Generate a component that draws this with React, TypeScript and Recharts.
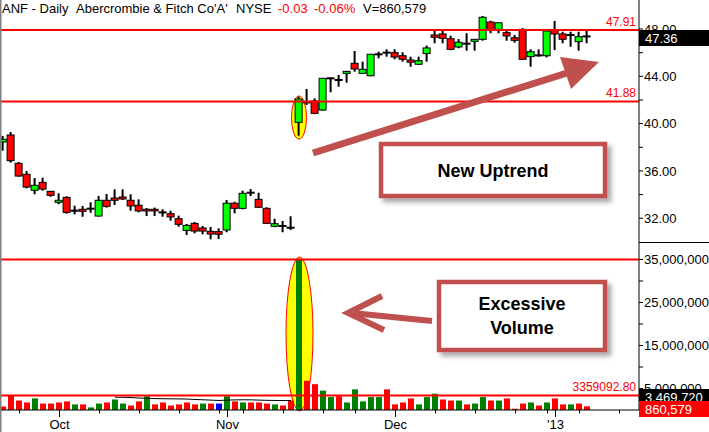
import React from 'react';
import { ComposedChart, Bar, Line, XAxis, YAxis, ReferenceLine } from 'recharts';

const FONT = "'Liberation Sans', Arial, sans-serif";

// trading days shown
const dates = [
  '2012-09-20', '2012-09-21', '2012-09-24', '2012-09-25', '2012-09-26', '2012-09-27', '2012-09-28',
  '2012-10-01', '2012-10-02', '2012-10-03', '2012-10-04', '2012-10-05',
  '2012-10-08', '2012-10-09', '2012-10-10', '2012-10-11', '2012-10-12',
  '2012-10-15', '2012-10-16', '2012-10-17', '2012-10-18', '2012-10-19',
  '2012-10-22', '2012-10-23', '2012-10-24', '2012-10-25', '2012-10-26',
  '2012-10-31', '2012-11-01', '2012-11-02',
  '2012-11-05', '2012-11-06', '2012-11-07', '2012-11-08', '2012-11-09',
  '2012-11-12', '2012-11-13', '2012-11-14', '2012-11-15', '2012-11-16',
  '2012-11-19', '2012-11-20', '2012-11-21', '2012-11-23',
  '2012-11-26', '2012-11-27', '2012-11-28', '2012-11-29', '2012-11-30',
  '2012-12-03', '2012-12-04', '2012-12-05', '2012-12-06', '2012-12-07',
  '2012-12-10', '2012-12-11', '2012-12-12', '2012-12-13', '2012-12-14',
  '2012-12-17', '2012-12-18', '2012-12-19', '2012-12-20', '2012-12-21',
  '2012-12-24', '2012-12-26', '2012-12-27', '2012-12-28',
  '2012-12-31', '2013-01-02', '2013-01-03', '2013-01-04',
  '2013-01-07', '2013-01-08',
];
// empty future days on the time axis
const futureDates = ['2013-01-09', '2013-01-10', '2013-01-11', '2013-01-14', '2013-01-15'];

const opens = [
  38.45, 39.04, 36.65, 35.72, 34.37, 35.04, 34.28, 33.35, 33.77, 32.64,
  32.76, 32.81, 32.19, 33.52, 33.71, 33.80, 33.52, 33.10, 32.76, 32.76,
  32.50, 32.39, 31.96, 30.98, 31.57, 31.18, 30.90, 30.87, 31.01, 33.27,
  32.84, 34.16, 33.60, 32.84, 31.32, 31.35, 31.20, 40.11, 41.82, 41.91,
  41.15, 43.83, 43.71, 44.25, 45.10, 44.25, 44.05, 45.86, 46.00, 46.00,
  45.74, 45.38, 45.02, 45.92, 47.49, 47.58, 47.18, 46.48, 46.76, 46.96,
  47.13, 48.59, 47.97, 47.69, 47.26, 47.97, 45.66, 45.77, 45.74, 47.92,
  47.58, 47.49, 46.93, 47.39,
];
const highs = [
  38.96, 39.29, 36.76, 36.00, 35.40, 35.43, 34.30, 34.11, 33.86, 33.06,
  33.04, 33.35, 33.88, 34.05, 34.45, 34.45, 34.03, 33.60, 32.87, 32.90,
  32.76, 32.64, 32.22, 31.52, 31.68, 31.35, 31.26, 31.15, 33.55, 33.40,
  34.33, 34.47, 34.16, 32.93, 31.96, 31.77, 32.17, 42.28, 42.93, 42.14,
  43.87, 43.90, 44.11, 44.45, 46.14, 45.24, 45.90, 46.08, 46.28, 46.28,
  46.03, 45.66, 45.66, 46.60, 47.86, 47.86, 47.43, 47.15, 47.64, 47.15,
  49.10, 48.70, 48.55, 47.86, 47.49, 48.06, 46.28, 46.28, 47.90, 48.68,
  47.77, 47.77, 47.77, 47.86,
];
const lows = [
  37.71, 36.70, 35.52, 34.53, 34.03, 34.33, 33.82, 33.18, 32.39, 32.33,
  32.13, 32.47, 32.15, 32.90, 33.12, 33.55, 32.64, 32.50, 32.19, 32.19,
  32.13, 31.80, 31.29, 30.59, 30.73, 30.65, 30.22, 30.25, 30.82, 32.42,
  32.76, 33.88, 32.90, 31.55, 31.24, 30.82, 31.01, 38.98, 41.58, 40.79,
  41.10, 42.65, 43.12, 43.46, 44.39, 44.22, 44.00, 45.52, 45.66, 45.44,
  45.24, 44.81, 44.96, 45.24, 46.79, 46.79, 46.20, 46.37, 46.17, 46.17,
  47.01, 47.64, 47.64, 47.01, 46.84, 45.38, 44.81, 45.66, 45.60, 46.22,
  46.79, 46.50, 46.17, 46.79,
];
const closes = [
  38.68, 36.87, 35.57, 34.64, 34.79, 34.47, 33.94, 33.52, 32.50, 32.64,
  32.59, 32.81, 33.52, 33.01, 33.52, 33.63, 33.04, 32.62, 32.62, 32.62,
  32.50, 32.11, 31.49, 31.40, 30.92, 30.92, 30.67, 30.65, 33.27, 32.84,
  34.11, 34.16, 32.93, 31.57, 31.54, 31.35, 31.20, 42.08, 41.78, 40.87,
  43.83, 43.83, 43.67, 44.42, 44.62, 44.59, 45.86, 45.86, 46.00, 45.63,
  45.44, 45.19, 45.32, 46.40, 47.30, 47.21, 46.28, 46.88, 46.76, 47.13,
  48.99, 47.92, 48.53, 47.41, 47.04, 45.44, 46.08, 45.77, 47.83, 47.58,
  47.13, 47.49, 47.35, 47.36,
];
// daily volume, millions of shares
const volumeM = [
  0.8, 3.3, 2.2, 1.75, 2.7, 1.5, 1.5, 1.75, 2.0, 1.3,
  1.3, 0.6, 1.5, 1.75, 2.45, 1.5, 1.05, 2.0, 3.2, 1.3,
  1.75, 1.05, 1.3, 1.75, 1.3, 1.5, 1.5, 1.5, 3.2, 2.0,
  1.75, 1.75, 1.75, 1.5, 1.3, 1.05, 2.2, 35.0, 6.8, 6.0,
  4.5, 3.0, 3.2, 1.75, 4.8, 2.0, 3.0, 3.0, 4.8, 1.3,
  1.75, 2.7, 1.3, 3.0, 3.8, 2.45, 2.2, 2.2, 1.3, 1.5,
  3.0, 2.2, 2.2, 2.7, 0.3, 1.5, 1.75, 1.05, 1.75, 2.7,
  1.3, 1.3, 1.5, 0.860579,
];
// volume bar colour: u = up, d = down, s = special (blue)
const volumeDir = [
  'd', 'd', 'd', 'd', 'u', 'd', 'd', 'd', 'd', 'u',
  'd', 'u', 'u', 'd', 'u', 'u', 'd', 'd', 'u', 'd',
  'd', 'd', 'd', 'd', 'd', 'u', 'd', 's', 'u', 'd',
  'u', 'd', 'd', 'd', 'u', 'd', 'd', 'u', 'd', 'd',
  'u', 'u', 'd', 'u', 'u', 'u', 'u', 'u', 'd', 'd',
  'd', 'd', 'u', 'u', 'u', 'd', 'd', 'u', 'd', 'u',
  'u', 'd', 'u', 'd', 'd', 'd', 'u', 'd', 'u', 'd',
  'd', 'u', 'd', 'd',
];
// visible part of the volume moving average (millions), starting at index 14
const volumeMaStart = 14;
const volumeMaM = [
  2.98, 2.95, 2.9, 2.78, 2.72, 2.65, 2.62, 2.6, 2.58, 2.55,
  2.45, 2.38, 2.3, 2.22, 2.3, 2.35, 2.38, 2.36, 2.3, 2.25,
  2.22, 2.2, 2.2,
];

const priceTicks = [32, 34, 36, 38, 40, 42, 44, 46, 48];
const volumeTicks = [5e6, 10e6, 15e6, 20e6, 25e6, 30e6, 35e6];
const resistance = 47.91;
const support = 41.88;
const volumeHigh = 35000000;
const volumeLine = 3359092.8;
const monthNames = ['Jan', 'Feb', 'Mar', 'Apr', 'May', 'Jun', 'Jul', 'Aug', 'Sep', 'Oct', 'Nov', 'Dec'];

const rows = dates.map((d, i) => ({
  i,
  date: d,
  open: opens[i],
  high: highs[i],
  low: lows[i],
  close: closes[i],
  volume: volumeM[i] * 1e6,
  vdir: volumeDir[i],
  ma: i >= volumeMaStart && i - volumeMaStart < volumeMaM.length ? volumeMaM[i - volumeMaStart] * 1e6 : null,
}));

const calendar = [...dates, ...futureDates];
const tickInfo = new Map<number, { major: boolean; label: string }>();
calendar.forEach((d, i) => {
  if (i === 0) return;
  const cur = new Date(d + 'T00:00:00Z');
  const prev = new Date(calendar[i - 1] + 'T00:00:00Z');
  const newMonth = cur.getUTCMonth() !== prev.getUTCMonth();
  const newWeek = cur.getUTCDay() < prev.getUTCDay();
  if (newMonth || newWeek) {
    const label = newMonth
      ? cur.getUTCMonth() === 0
        ? "'" + String(cur.getUTCFullYear()).slice(2)
        : monthNames[cur.getUTCMonth()]
      : '';
    tickInfo.set(i, { major: newMonth, label });
  }
});
const xTicks = Array.from(tickInfo.keys());
const X_DOMAIN: [number, number] = [-0.375, 79.5];

const Candle = (props: any) => {
  const { x, y, width, height, payload } = props;
  if (!payload || payload.open == null) return <g />;
  const cx = x + width / 2;
  const top = Math.min(y, y + height);
  const h = Math.abs(height);
  const hi = payload.high;
  const lo = payload.low;
  const py = (v: number) => top + ((hi - v) / (hi - lo)) * h;
  const yo = py(payload.open);
  const yc = py(payload.close);
  const bTop = Math.min(yo, yc);
  const bH = Math.abs(yo - yc);
  const up = payload.close >= payload.open;
  return (
    <g>
      <rect x={cx - 1} y={top} width={2} height={h} fill="#000" />
      {bH < 1.5 ? (
        <rect x={cx - 4} y={(yo + yc) / 2 - 1} width={8} height={2} fill="#000" />
      ) : (
        <rect x={cx - 3.5} y={bTop} width={7} height={bH} fill={up ? '#00FF00' : '#FF0000'} stroke="#000" strokeWidth={1} />
      )}
    </g>
  );
};

const VolBar = (props: any) => {
  const { x, y, width, height, payload } = props;
  const cx = x + width / 2;
  const c = payload.vdir === 'u' ? '#008000' : payload.vdir === 's' ? '#0000FF' : '#FF0000';
  return <rect x={cx - 3} y={Math.min(y, y + height)} width={6} height={Math.abs(height)} fill={c} />;
};

const PriceTick = (p: any) => {
  const v = p.payload.value;
  if (Math.round(v) % 4 !== 0) return <g />;
  return (
    <text x={p.x} y={p.y} dy={4.6} fontSize={13} fontFamily={FONT} fill="#000" textAnchor="start">
      {v.toFixed(2)}
    </text>
  );
};

const VolTick = (p: any) => {
  const v = p.payload.value;
  if (Math.round(v / 1e6) % 10 !== 5) return <g />;
  return (
    <text x={p.x} y={p.y} dy={4.6} fontSize={13} fontFamily={FONT} fill="#000" textAnchor="start">
      {v.toLocaleString('en-US')}
    </text>
  );
};

const DateTick = (p: any) => {
  const info = tickInfo.get(p.payload.value);
  if (!info) return <g />;
  const x = Math.round(p.x) + 0.5;
  const y = p.y;
  return (
    <g>
      <line x1={x} x2={x} y1={y} y2={y + (info.major ? 7 : 3.5)} stroke="#000" strokeWidth={1} />
      {info.label && (
        <text x={x} y={y + 19} fontSize={13} fontFamily={FONT} fill="#000" textAnchor="middle">
          {info.label}
        </text>
      )}
    </g>
  );
};

const BROWN = '#C0504D';

export default function App() {
  return (
    <div style={{ position: 'absolute', left: 0, top: 0, width: 709, height: 432, overflow: 'hidden', background: '#fff' }}>
      {/* highlight ellipses behind the data */}
      <svg width={709} height={432} style={{ position: 'absolute', left: 0, top: 0 }}>
        <ellipse cx={299} cy={117.5} rx={7.5} ry={21.5} fill="#FFFF00" stroke="#FF0000" strokeWidth={1} />
        <ellipse cx={299.5} cy={334} rx={13.5} ry={77} fill="#FFFF00" stroke="#FF0000" strokeWidth={1} />
      </svg>

      <div style={{ position: 'absolute', left: 0, top: 0 }}>
        <ComposedChart width={709} height={243} data={rows} margin={{ top: 0, right: 0, left: 0, bottom: 0 }}>
          <XAxis dataKey="i" type="number" domain={X_DOMAIN} allowDataOverflow hide />
          <YAxis
            orientation="right"
            width={70}
            type="number"
            domain={[29.91, 50.451]}
            allowDataOverflow
            ticks={priceTicks}
            interval={0}
            tickSize={4}
            tickMargin={1}
            tick={<PriceTick />}
            axisLine={{ stroke: '#000' }}
            tickLine={{ stroke: '#000' }}
          />
          <Bar dataKey={(d: any) => [d.low, d.high]} shape={<Candle />} barSize={8} isAnimationActive={false} />
          <ReferenceLine y={resistance} stroke="#FF0000" strokeWidth={2} />
          <ReferenceLine y={support} stroke="#FF0000" strokeWidth={2} />
        </ComposedChart>
      </div>

      <div style={{ position: 'absolute', left: 0, top: 243 }}>
        <ComposedChart width={709} height={189} data={rows} margin={{ top: 0, right: 0, left: 0, bottom: 0 }}>
          <XAxis
            dataKey="i"
            type="number"
            domain={X_DOMAIN}
            allowDataOverflow
            ticks={xTicks}
            interval={0}
            height={22}
            tickSize={0}
            tickMargin={0}
            tickLine={false}
            tick={<DateTick />}
            axisLine={{ stroke: '#000' }}
          />
          <YAxis
            orientation="right"
            width={70}
            type="number"
            domain={[0, 38.84e6]}
            allowDataOverflow
            ticks={volumeTicks}
            interval={0}
            tickSize={4}
            tickMargin={1}
            tick={<VolTick />}
            axisLine={{ stroke: '#000' }}
            tickLine={{ stroke: '#000' }}
          />
          <Line dataKey="ma" stroke="#000" strokeWidth={1} dot={false} connectNulls={false} isAnimationActive={false} />
          <Bar dataKey="volume" shape={<VolBar />} barSize={6} isAnimationActive={false} />
          <ReferenceLine y={volumeHigh} stroke="#FF0000" strokeWidth={2} />
          <ReferenceLine y={volumeLine} stroke="#FF0000" strokeWidth={2} />
        </ComposedChart>
      </div>

      {/* labels and annotations on top */}
      <svg width={709} height={432} style={{ position: 'absolute', left: 0, top: 0, pointerEvents: 'none' }}>
        <defs>
          <filter id="shadow" x="-10%" y="-10%" width="130%" height="140%">
            <feDropShadow dx={4} dy={4} stdDeviation={2.5} floodColor="#000" floodOpacity={0.35} />
          </filter>
          <clipPath id="maBox">
            <rect x={639} y={389} width={70} height={12} />
          </clipPath>
        </defs>
        <line x1={0.75} y1={0} x2={0.75} y2={432} stroke="#808080" strokeWidth={1.5} />
        <line x1={639} y1={242.5} x2={709} y2={242.5} stroke="#000" strokeWidth={1} />

        {/* title */}
        <g fontFamily={FONT} fontSize={13}>
          <text x={2} y={13} fill="#000">ANF - Daily</text>
          <text x={76} y={13} fill="#000">Abercrombie &amp; Fitch Co'A'</text>
          <text x={236} y={13} fill="#000">NYSE</text>
          <text x={278} y={13} fill="#FF0000">-0.03</text>
          <text x={314} y={13} fill="#FF0000">-0.06%</text>
          <text x={363} y={13} fill="#000">V=860,579</text>
        </g>

        {/* line labels */}
        <g fontFamily={FONT} fontSize={12} fill="#FF0000" textAnchor="end">
          <text x={636} y={26}>{resistance.toFixed(2)}</text>
          <text x={636} y={97}>{support.toFixed(2)}</text>
          <text x={636} y={391}>{volumeLine.toFixed(2)}</text>
        </g>

        {/* axis value boxes */}
        <rect x={639} y={30} width={70} height={16} fill="#000" />
        <text x={645} y={43} fontFamily={FONT} fontSize={13} fill="#fff">47.36</text>
        <rect x={639} y={389} width={70} height={12} fill="#000" />
        <g clipPath="url(#maBox)">
          <text x={645} y={402} fontFamily={FONT} fontSize={13} fill="#fff">3,469,720</text>
        </g>
        <rect x={639} y={401} width={70} height={16} fill="#FF0000" />
        <text x={645} y={414} fontFamily={FONT} fontSize={13} fill="#fff">860,579</text>

        {/* uptrend arrow */}
        <line x1={313} y1={153} x2={567} y2={73} stroke={BROWN} strokeWidth={7} />
        <polygon points="599,62 560,57 571,89" fill={BROWN} />

        {/* volume arrow */}
        <line x1={352} y1={313} x2={432} y2={321} stroke={BROWN} strokeWidth={6} />
        <polyline points="382,296 348,313 384,330" fill="none" stroke={BROWN} strokeWidth={6} strokeLinejoin="miter" />

        {/* boxes */}
        <rect x={381} y={144} width={224} height={52} fill="#fff" stroke={BROWN} strokeWidth={4.5} filter="url(#shadow)" />
        <text x={493} y={177} fontFamily={FONT} fontSize={18} fontWeight="bold" fill="#000" textAnchor="middle">New Uptrend</text>
        <rect x={439} y={282} width={166} height={68} fill="#fff" stroke={BROWN} strokeWidth={4.5} filter="url(#shadow)" />
        <text x={522} y={310} fontFamily={FONT} fontSize={18} fontWeight="bold" fill="#000" textAnchor="middle">Excessive</text>
        <text x={522} y={334} fontFamily={FONT} fontSize={18} fontWeight="bold" fill="#000" textAnchor="middle">Volume</text>
      </svg>
    </div>
  );
}
